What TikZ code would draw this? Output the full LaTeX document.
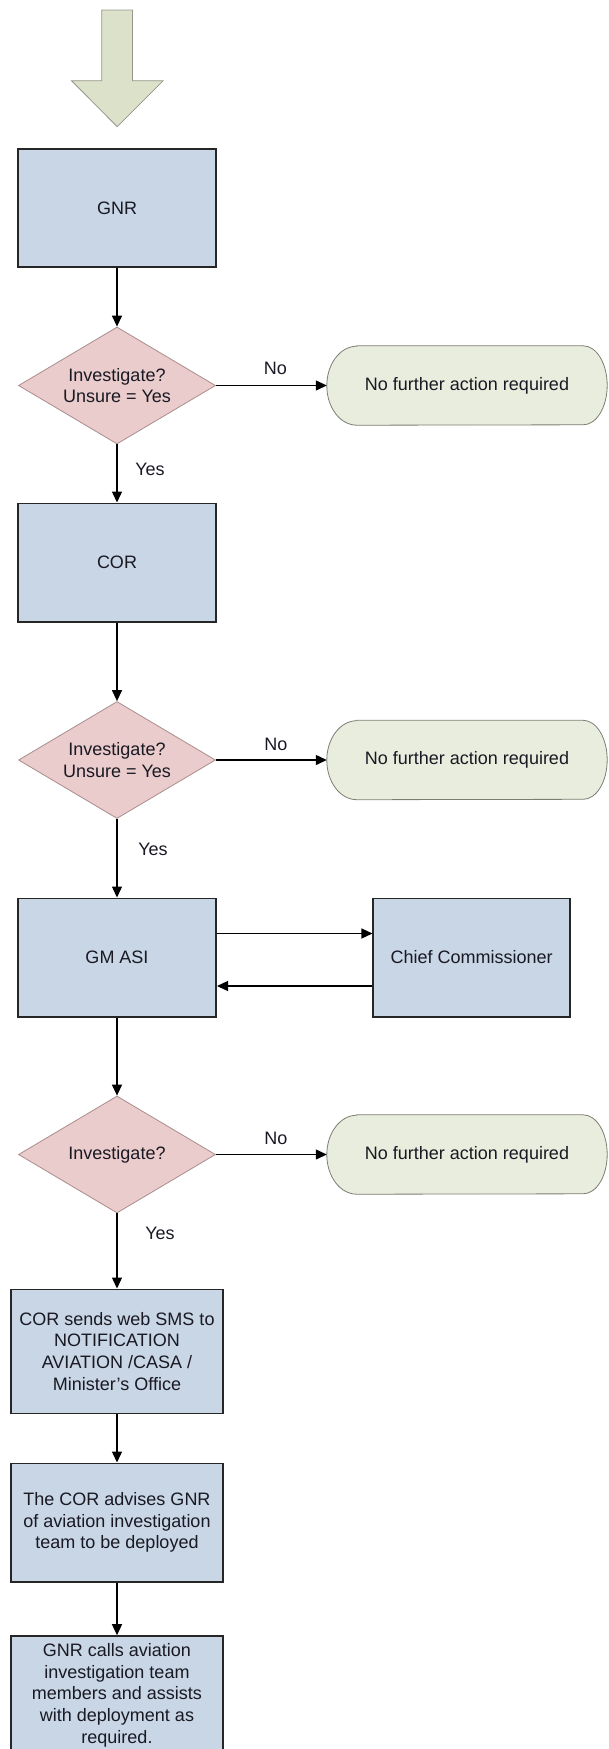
\documentclass[tikz,border=0pt]{standalone}
\usepackage{fontspec}
\setmainfont{Liberation Sans}
\usetikzlibrary{arrows.meta,backgrounds,calc,shapes.geometric}
\definecolor{boxfill}{RGB}{201,214,229}
\definecolor{diafill}{RGB}{234,204,204}
\definecolor{diaborder}{RGB}{170,140,140}
\definecolor{termfill}{RGB}{232,237,221}
\definecolor{termborder}{RGB}{125,125,115}
\definecolor{bigfill}{RGB}{220,225,202}
\definecolor{bigborder}{RGB}{150,150,140}
\definecolor{txt}{RGB}{25,25,35}
\begin{document}
\begin{tikzpicture}[x=1pt,y=-1pt,
  font=\fontsize{18}{21.7}\selectfont,
  every node/.style={text=txt},
  procbox/.style={draw=black!85,line width=1.6pt,fill=boxfill,minimum width=198.4pt,minimum height=118.4pt,inner sep=0pt,align=center},
  widebox/.style={procbox,minimum width=212pt},
  decision/.style={shape=diamond,aspect=1.684,draw=diaborder,fill=diafill,line width=0.8pt,minimum width=197pt,minimum height=117pt,inner sep=0pt,align=center},
  terminal/.style={minimum width=280pt,minimum height=79pt,inner sep=0pt},
  termline/.style={draw=termborder,fill=termfill,line width=0.8pt},
  conn/.style={draw=black,line width=1.3pt,-{Triangle[length=11pt,width=10pt]}},
  lbl/.style={inner sep=0pt}
]
\useasboundingbox (0,0) rectangle (608,1749);
\clip (0,0) rectangle (608,1749);

% big entry arrow
\draw[draw=bigborder,fill=bigfill,line width=0.8pt]
  (101.7,10) -- (132.5,10) -- (132.5,80.7) -- (163.2,80.7) -- (117.2,126.7)
  -- (71.5,80.7) -- (101.7,80.7) -- cycle;

% nodes
\node[procbox] (gnr) at (117,208) {GNR};
\node[decision] (d1) at (117,385.5) {Investigate?\\Unsure = Yes};
\node[terminal] (t1) at (467,385.5) {No further action required};
\node[procbox] (cor) at (117,562.5) {COR};
\node[decision] (d2) at (117,760) {Investigate?\\Unsure = Yes};
\node[terminal] (t2) at (467,760) {No further action required};
\node[procbox] (gmasi) at (117,957.5) {GM ASI};
\node[procbox,minimum width=196.7pt] (chief) at (471.6,957.5) {Chief Commissioner};
\node[decision] (d3) at (117,1154.5) {Investigate?};
\node[terminal] (t3) at (467,1154.5) {No further action required};
\node[widebox,minimum height=124pt] (b4) at (117,1351.3) {COR sends web SMS to\\NOTIFICATION\\AVIATION /CASA /\\Minister's Office};
\node[widebox] (b5) at (117,1522.5) {The COR advises GNR\\of aviation investigation\\team to be deployed};
\node[widebox] (b6) at (117,1695.2) {GNR calls aviation\\investigation team\\members and assists\\with deployment as\\required.};

% terminal outlines
\begin{pgfonlayer}{background}
\foreach \t in {t1,t2,t3}{
  \draw[termline] ($(\t.north west)+(30,0)$) -- ($(\t.north east)+(-24,0)$)
    arc[start angle=90,end angle=-90,x radius=24pt,y radius=39.5pt]
    -- ($(\t.south west)+(30,0)$)
    arc[start angle=270,end angle=90,x radius=30pt,y radius=39.5pt] -- cycle;
}
\end{pgfonlayer}

% labels
\node[lbl] (no1) at (275.4,368.3) {No};
\node[lbl] (no2) at (276,744.3) {No};
\node[lbl] (no3) at (276,1138.3) {No};
\node[lbl] (yes1) at (150,469.3) {Yes};
\node[lbl] (yes2) at (153,849.3) {Yes};
\node[lbl] (yes3) at (160,1233.3) {Yes};

% connectors
\draw[conn] (gnr.south) -- (d1.north);
\draw[conn] (d1.east) -- (t1.west);
\draw[conn] (d1.south) -- (cor.north);
\draw[conn] (cor.south) -- (d2.north);
\draw[conn] (d2.east) -- (t2.west);
\draw[conn] (d2.south) -- (gmasi.north);
\draw[conn] ($(gmasi.east)+(0,-24)$) -- ($(chief.west)+(0,-24)$);
\draw[conn] ($(chief.west)+(0,28.5)$) -- ($(gmasi.east)+(0,28.5)$);
\draw[conn] (gmasi.south) -- (d3.north);
\draw[conn] (d3.east) -- (t3.west);
\draw[conn] (d3.south) -- (b4.north);
\draw[conn] (b4.south) -- (b5.north);
\draw[conn] (b5.south) -- (b6.north);
\end{tikzpicture}
\end{document}
